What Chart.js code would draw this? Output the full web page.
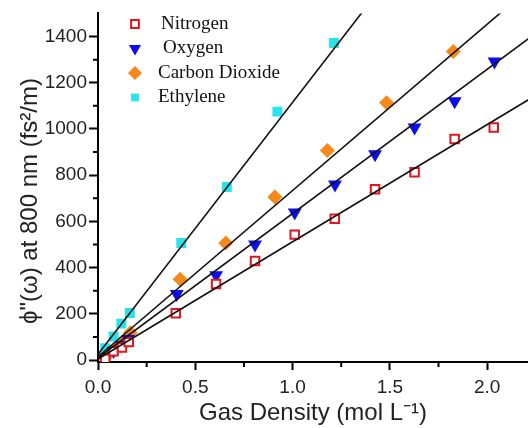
<!DOCTYPE html>
<html>
<head>
<meta charset="utf-8">
<script src="https://cdn.jsdelivr.net/npm/chart.js@4"></script>
<style>
  html, body { margin: 0; padding: 0; background: #fff; overflow: hidden; }
  #wrap { width: 528px; height: 428px; position: relative; }
</style>
</head>
<body>
<div id="wrap"><canvas id="myChart"></canvas></div>
<script>
// gas density (mol/L) and GDD values (fs^2/m)
const nitrogenX = [0.037, 0.08, 0.123, 0.158, 0.400, 0.607, 0.807, 1.011, 1.217, 1.424, 1.627, 1.833, 2.034];
const nitrogenY = [6, 39, 55, 78, 203, 329, 429, 543, 612, 739, 813, 957, 1006];

const oxygenX = [0.04, 0.08, 0.12, 0.155, 0.405, 0.607, 0.807, 1.011, 1.218, 1.424, 1.627, 1.833, 2.038];
const oxygenY = [12, 40, 65, 92, 286, 367, 500, 639, 760, 891, 1006, 1120, 1292];

const co2X = [0.037, 0.084, 0.131, 0.166, 0.422, 0.657, 0.909, 1.179, 1.483, 1.826];
const co2Y = [10, 46, 83, 119, 350, 507, 706, 907, 1114, 1335];

const ethyleneX = [0.037, 0.08, 0.12, 0.164, 0.428, 0.662, 0.922, 1.213];
const ethyleneY = [52, 102, 158, 204, 507, 749, 1075, 1372];

// linear fits (slope, intercept) drawn as black lines
const gasNames = ['Nitrogen', 'Oxygen', 'Carbon Dioxide', 'Ethylene'];
const fitSlopes = [507, 624, 719, 1090];
const fitIntercepts = [5, 10, 15, 25];
const fitRange = [0, 2.4];

const xTicks = [0, 0.5, 1.0, 1.5, 2.0];
const yTicks = [0, 200, 400, 600, 800, 1000, 1200, 1400];

const pts = (xs, ys) => xs.map((x, i) => ({ x: x, y: ys[i] }));

const markerSets = [
  { data: pts(nitrogenX, nitrogenY), pointStyle: 'rect', pointRadius: 6, pointRotation: 0,
    pointBackgroundColor: '#ffffff', pointBorderColor: '#e2151f', pointBorderWidth: 2 },
  { data: pts(oxygenX, oxygenY), pointStyle: 'triangle', pointRadius: 8, pointRotation: 180,
    pointBackgroundColor: '#0d0ef0', pointBorderColor: '#0d0ef0', pointBorderWidth: 0 },
  { data: pts(co2X, co2Y), pointStyle: 'rectRot', pointRadius: 7.5, pointRotation: 0,
    pointBackgroundColor: '#f6891a', pointBorderColor: '#f6891a', pointBorderWidth: 0 },
  { data: pts(ethyleneX, ethyleneY), pointStyle: 'rect', pointRadius: 7, pointRotation: 0,
    pointBackgroundColor: '#27e3ea', pointBorderColor: '#27e3ea', pointBorderWidth: 0 }
];

const datasets = [];
markerSets.forEach((m, i) => {
  datasets.push(Object.assign({
    label: gasNames[i],
    showLine: false,
    order: 1
  }, m));
});
gasNames.forEach((name, i) => {
  datasets.push({
    label: name + ' fit',
    data: fitRange.map(x => ({ x: x, y: fitIntercepts[i] + fitSlopes[i] * x })),
    showLine: true,
    borderColor: '#111',
    borderWidth: 1.6,
    pointRadius: 0,
    order: 0
  });
});

// minor ticks halfway between major ones
const minorTicks = {
  id: 'minorTicks',
  afterDraw(chart) {
    const ctx = chart.ctx;
    const xs = chart.scales.x, ys = chart.scales.y;
    ctx.save();
    ctx.strokeStyle = '#000';
    ctx.lineWidth = 2;
    ctx.beginPath();
    for (let v = 0.25; v < xs.max; v += 0.5) {
      const px = xs.getPixelForValue(v);
      ctx.moveTo(px, ys.bottom); ctx.lineTo(px, ys.bottom + 5);
    }
    for (let v = 100; v < ys.max; v += 200) {
      const py = ys.getPixelForValue(v);
      ctx.moveTo(xs.left, py); ctx.lineTo(xs.left - 5, py);
    }
    ctx.stroke();
    ctx.restore();
  }
};

// legend inside the plot, top-left, serif font like the original
const insideLegend = {
  id: 'insideLegend',
  afterDraw(chart) {
    const ctx = chart.ctx;
    ctx.save();
    ctx.font = '19px "Liberation Serif", "Times New Roman", serif';
    ctx.textBaseline = 'middle';
    markerSets.forEach((m, i) => {
      const y = 24 + i * 24.5;
      ctx.fillStyle = m.pointBackgroundColor;
      ctx.strokeStyle = m.pointBorderColor;
      ctx.lineWidth = m.pointBorderWidth;
      Chart.helpers.drawPoint(ctx, {
        pointStyle: m.pointStyle,
        rotation: m.pointRotation,
        radius: m.pointStyle === 'rect' ? 5.5 : 7,
        borderWidth: m.pointBorderWidth
      }, 135, y);
      ctx.fillStyle = '#111';
      ctx.fillText(gasNames[i], i === 1 ? 163 : (i === 0 ? 161 : 158), y);
    });
    ctx.restore();
  }
};

const tickFont = { family: '"Liberation Sans", Arial, sans-serif', size: 19 };
const titleFont = { family: '"Liberation Sans", Arial, sans-serif', size: 24 };

new Chart(document.getElementById('myChart'), {
  type: 'scatter',
  data: { datasets: datasets },
  options: {
    responsive: true,
    maintainAspectRatio: false,
    animation: false,
    layout: { autoPadding: false, padding: { top: 10, right: 0, left: 16, bottom: 0 } },
    plugins: {
      legend: { display: false },
      tooltip: { enabled: false }
    },
    scales: {
      x: {
        type: 'linear',
        min: 0,
        max: 2.21,
        afterBuildTicks: s => { s.ticks = xTicks.map(v => ({ value: v })); },
        ticks: {
          includeBounds: false,
          color: '#222',
          font: tickFont,
          padding: 6,
          callback: v => v.toFixed(1)
        },
        grid: { drawOnChartArea: false, drawTicks: true, tickLength: 8, tickColor: '#000', tickWidth: 2 },
        border: { color: '#000', width: 2 },
        title: { display: true, text: 'Gas Density (mol L\u207B\u00B9)', color: '#222', font: titleFont, padding: { top: 2, bottom: 0 } },
        afterFit: s => { s.height = 66; }
      },
      y: {
        type: 'linear',
        min: -8,
        max: 1500,
        afterBuildTicks: s => { s.ticks = yTicks.map(v => ({ value: v })); },
        ticks: {
          includeBounds: false,
          color: '#222',
          font: tickFont,
          padding: 2,
          callback: v => String(v)
        },
        grid: { drawOnChartArea: false, drawTicks: true, tickLength: 9, tickColor: '#000', tickWidth: 2 },
        border: { color: '#000', width: 2 },
        // trailing spaces push the rotated title down to where the original sits
        title: { display: true, text: '\u03D5"(\u03C9) at 800 nm (fs\u00B2/m)    ', color: '#222', font: titleFont, padding: { top: 0, bottom: 2 } },
        afterFit: s => { s.width = 82; }
      }
    }
  },
  plugins: [minorTicks, insideLegend]
});
</script>
</body>
</html>
